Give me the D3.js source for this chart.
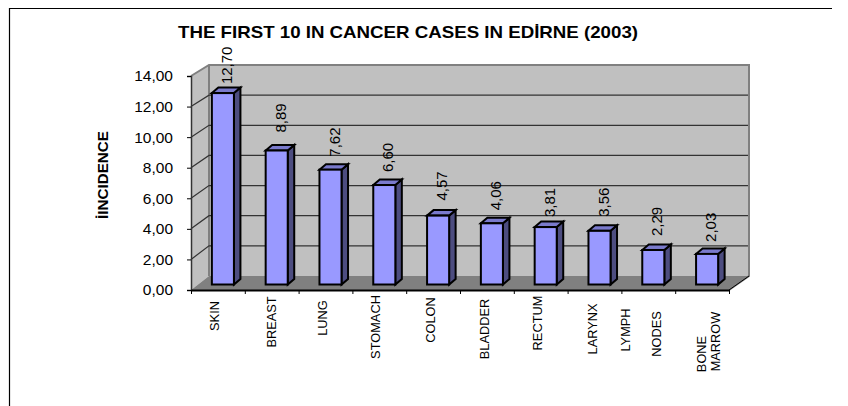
<!DOCTYPE html>
<html>
<head>
<meta charset="utf-8">
<script src="https://cdn.jsdelivr.net/npm/d3@7"></script>
<style>
  html, body { margin: 0; padding: 0; background: #fff; }
  svg { display: block; }
  text { font-family: "Liberation Sans", Arial, sans-serif; fill: #000; }
</style>
</head>
<body>
<div id="chart"></div>
<script>
var categories = ["SKIN", "BREAST", "LUNG", "STOMACH", "COLON", "BLADDER", "RECTUM", "LARYNX", "LYMPH NODES", "BONE MARROW"];
var values = [12.70, 8.89, 7.62, 6.60, 4.57, 4.06, 3.81, 3.56, 2.29, 2.03];
var yTicks = [0, 2, 4, 6, 8, 10, 12, 14];
var titleText = "THE FIRST 10 IN CANCER CASES IN EDİRNE (2003)";
var yTitle = "İINCIDENCE";

// the source chart places these by hand-ish, so they are nudged one by one
var valueNudge = [-4, 5, 0, 0, 2, 0, -3, 1, 1, -1];
var labelLines = [["SKIN"], ["BREAST"], ["LUNG"], ["STOMACH"], ["COLON"], ["BLADDER"], ["RECTUM"], ["LARYNX"], ["LYMPH", "NODES"], ["BONE", "MARROW"]];
var labelDx = [[-3.5], [0], [-3.5], [-3.5], [-3], [-3], [-3], [-2.5], [-23, 8], [-1, 13]];
var labelMid = [[316], [322], [318], [327], [320], [329], [323], [329], [330, 334], [354, 341.5]];

var width = 848, height = 406;
var frontLeft = 191, frontRight = 729, frontBase = 290, frontTop = 76;
var backLeft = 209, backRight = 749, backBase = 276, backTop = 65;

var svg = d3.select("#chart").append("svg")
    .attr("width", width)
    .attr("height", height);

var yFront = d3.scaleLinear().domain([0, 14]).range([frontBase, frontTop]);
var yBack = d3.scaleLinear().domain([0, 14]).range([backBase, backTop]);
// bars stand halfway into the floor
var yBar = d3.scaleLinear().domain([0, 14]).range([284.5, 73.5]);
var xTick = d3.scaleLinear().domain([0, categories.length]).range([frontLeft, frontRight]);
var xBar = d3.scaleBand().domain(categories)
    .range([frontLeft + 5, frontRight + 5])
    .paddingInner(0.59)
    .paddingOuter(0.295);

var poly = function(points) {
    return "M" + points.map(function(p) { return p.join(","); }).join("L") + "Z";
};

// outer frame, only top and left show
svg.append("path")
    .attr("d", "M9.5,406V8.5H832")
    .attr("fill", "none")
    .attr("stroke", "#000")
    .attr("stroke-width", 1.2);

// walls and floor
svg.append("path")
    .attr("d", poly([[backLeft, backTop], [backRight, backTop], [backRight, backBase], [backLeft, backBase]]))
    .attr("fill", "#c0c0c0");
svg.append("path")
    .attr("d", poly([[frontLeft, frontTop], [backLeft, backTop], [backLeft, backBase], [frontLeft, frontBase]]))
    .attr("fill", "#c0c0c0");
svg.append("path")
    .attr("d", poly([[frontLeft, frontBase], [backLeft, backBase], [backRight, backBase], [frontRight, frontBase]]))
    .attr("fill", "#808080");
svg.append("path")
    .attr("d", "M" + frontLeft + "," + frontTop + "L" + backLeft + "," + backTop + "H" + backRight + "V" + backBase + "L" + frontRight + "," + frontBase)
    .attr("fill", "none")
    .attr("stroke", "#808080")
    .attr("stroke-width", 2);
svg.append("path")
    .attr("d", "M" + backLeft + "," + backTop + "V" + backBase)
    .attr("stroke", "#808080")
    .attr("stroke-width", 2);

// gridlines on back wall, with the slanted bit on the side wall
var gridVals = yTicks.filter(function(d) { return d > 0 && d < 14; });
svg.selectAll(".grid")
    .data(gridVals)
    .enter()
    .append("path")
    .attr("class", "grid")
    .attr("d", function(d) {
        return "M" + frontLeft + "," + yFront(d) + "L" + backLeft + "," + yBack(d) + "H" + (backRight - 1);
    })
    .attr("fill", "none")
    .attr("stroke", "#333")
    .attr("stroke-width", 1.2);

// bars
var bars = svg.selectAll(".bar")
    .data(values)
    .enter()
    .append("g")
    .attr("class", "bar")
    .attr("stroke", "#000")
    .attr("stroke-width", 2)
    .attr("stroke-linejoin", "miter");
var depthX = 6.5, depthY = 5.5;
bars.append("path")
    .attr("fill", "#4d4d80")
    .attr("d", function(d, i) {
        var x1 = xBar(categories[i]) + xBar.bandwidth();
        return poly([[x1, yBar(d)], [x1 + depthX, yBar(d) - depthY], [x1 + depthX, yBar(0) - depthY], [x1, yBar(0)]]);
    });
bars.append("path")
    .attr("fill", "#7a7acc")
    .attr("d", function(d, i) {
        var x0 = xBar(categories[i]), x1 = x0 + xBar.bandwidth();
        return poly([[x0, yBar(d)], [x0 + depthX, yBar(d) - depthY], [x1 + depthX, yBar(d) - depthY], [x1, yBar(d)]]);
    });
bars.append("rect")
    .attr("fill", "#9999ff")
    .attr("x", function(d, i) { return xBar(categories[i]); })
    .attr("y", function(d) { return yBar(d); })
    .attr("width", xBar.bandwidth())
    .attr("height", function(d) { return yBar(0) - yBar(d); });

// value labels
svg.selectAll(".val")
    .data(values)
    .enter()
    .append("text")
    .attr("class", "val")
    .attr("text-anchor", "start")
    .attr("font-size", 15)
    .attr("transform", function(d, i) {
        var x = xBar(categories[i]) + xBar.bandwidth() / 2 + 9;
        var y = yBar(d) - 13 - valueNudge[i];
        return "translate(" + x + "," + y + ") rotate(-90)";
    })
    .text(function(d) { return d.toFixed(2).replace(".", ","); });

// y axis
var yAxis = d3.axisLeft(yFront)
    .tickValues(yTicks)
    .tickSize(4)
    .tickPadding(14)
    .tickFormat(function(d) { return d.toFixed(2).replace(".", ","); });
var yG = svg.append("g")
    .attr("transform", "translate(" + frontLeft + ",0)")
    .call(yAxis);
yG.selectAll("text").attr("font-size", 15.5).attr("font-family", null);
yG.select(".domain").attr("stroke", "#333").attr("stroke-width", 1.5);
yG.selectAll("line").attr("stroke", "#000");

// x axis, ticks between the categories
var xAxis = d3.axisBottom(xTick)
    .tickValues(d3.range(categories.length + 1))
    .tickSizeInner(4)
    .tickSizeOuter(0)
    .tickFormat("");
var xG = svg.append("g")
    .attr("transform", "translate(0," + frontBase + ")")
    .call(xAxis);
xG.select(".domain").attr("stroke", "#000").attr("stroke-width", 1.8);
xG.selectAll("line").attr("stroke", "#000");
svg.append("path")
    .attr("d", "M" + frontRight + "," + frontBase + "L" + backRight + "," + backBase)
    .attr("stroke", "#000");

// category labels
labelLines.forEach(function(lines, i) {
    lines.forEach(function(line, j) {
        var x = xTick(i + 0.5) + labelDx[i][j] + 4.6;
        svg.append("text")
            .attr("class", "cat")
            .attr("text-anchor", "middle")
            .attr("font-size", 12.8)
            .attr("transform", "translate(" + x + "," + labelMid[i][j] + ") rotate(-90)")
            .text(line);
    });
});

// titles, the source text runs wider than its height would give
svg.append("text")
    .attr("x", 408)
    .attr("y", 38)
    .attr("text-anchor", "middle")
    .attr("font-size", 17)
    .attr("font-weight", "bold")
    .attr("textLength", 460)
    .attr("lengthAdjust", "spacingAndGlyphs")
    .text(titleText);
svg.append("text")
    .attr("text-anchor", "middle")
    .attr("font-size", 15.2)
    .attr("font-weight", "bold")
    .attr("transform", "translate(107.5,175) rotate(-90)")
    .text(yTitle);
</script>
</body>
</html>
